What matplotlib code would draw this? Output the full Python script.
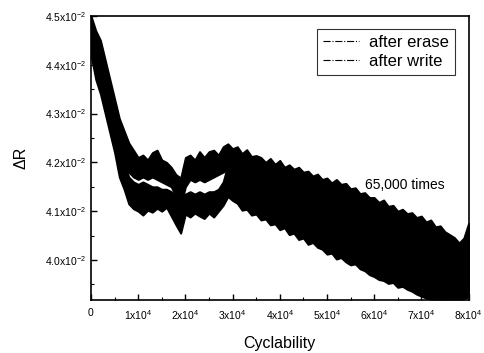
import numpy as np
import matplotlib
matplotlib.use("Agg")
import matplotlib.pyplot as plt
from matplotlib.ticker import MultipleLocator, FixedLocator, FixedFormatter

plt.rcParams['font.family'] = ['Liberation Sans', 'DejaVu Sans']
plt.rcParams['mathtext.fontset'] = 'custom'
plt.rcParams['mathtext.rm'] = 'Liberation Sans'
plt.rcParams['mathtext.it'] = 'Liberation Sans:italic'

#%% data (dR in units of 1e-2, cycles every 1000)
cycles = np.arange(0, 81000, 1000)

# band envelopes, after erase (upper band)
erase_top = [4.50, 4.47, 4.45, 4.41, 4.37, 4.33, 4.29, 4.265, 4.24, 4.225,
             4.21, 4.215, 4.205, 4.22, 4.225, 4.205, 4.20, 4.19, 4.175, 4.168,
             4.21, 4.215, 4.205, 4.222, 4.21, 4.222, 4.225, 4.215, 4.232, 4.238,
             4.228, 4.232, 4.218, 4.226, 4.212, 4.214, 4.21, 4.20, 4.208, 4.196,
             4.204, 4.19, 4.195, 4.186, 4.19, 4.18, 4.182, 4.172, 4.176, 4.165,
             4.168, 4.158, 4.165, 4.155, 4.157, 4.146, 4.148, 4.136, 4.138, 4.128,
             4.128, 4.118, 4.123, 4.11, 4.112, 4.10, 4.104, 4.095, 4.097, 4.087,
             4.09, 4.078, 4.082, 4.068, 4.07, 4.058, 4.052, 4.046, 4.035, 4.045,
             4.075]
erase_bot = [4.46, 4.42, 4.39, 4.35, 4.31, 4.27, 4.22, 4.19, 4.18, 4.17,
             4.165, 4.17, 4.165, 4.17, 4.165, 4.16, 4.155, 4.15, 4.13, 4.11,
             4.15, 4.165, 4.16, 4.165, 4.16, 4.165, 4.17, 4.175, 4.18, 4.185,
             4.17, 4.16, 4.155, 4.155, 4.145, 4.14, 4.14, 4.135, 4.13, 4.125,
             4.12, 4.12, 4.11, 4.11, 4.105, 4.10, 4.10, 4.095, 4.09, 4.085,
             4.08, 4.075, 4.075, 4.07, 4.07, 4.06, 4.06, 4.055, 4.045, 4.04,
             4.035, 4.03, 4.03, 4.025, 4.02, 4.015, 4.012, 4.01, 4.005, 4.00,
             3.995, 3.99, 3.99, 3.985, 3.98, 3.98, 3.975, 3.97, 3.97, 3.97,
             3.98]

# after write (lower band)
write_top = [4.47, 4.43, 4.40, 4.36, 4.32, 4.28, 4.24, 4.20, 4.17, 4.16,
             4.155, 4.16, 4.155, 4.15, 4.15, 4.145, 4.145, 4.14, 4.13, 4.12,
             4.135, 4.14, 4.135, 4.14, 4.135, 4.14, 4.14, 4.145, 4.16, 4.195,
             4.185, 4.18, 4.17, 4.17, 4.165, 4.16, 4.155, 4.15, 4.145, 4.14,
             4.14, 4.135, 4.13, 4.13, 4.12, 4.12, 4.115, 4.11, 4.11, 4.10,
             4.10, 4.095, 4.09, 4.09, 4.085, 4.08, 4.075, 4.07, 4.065, 4.06,
             4.055, 4.05, 4.045, 4.045, 4.04, 4.035, 4.03, 4.03, 4.025, 4.02,
             4.015, 4.01, 4.005, 4.00, 4.00, 3.995, 3.99, 3.99, 3.985, 3.99,
             4.00]
write_bot = [4.42, 4.37, 4.34, 4.30, 4.26, 4.22, 4.17, 4.145, 4.115, 4.105,
             4.10, 4.092, 4.102, 4.098, 4.106, 4.10, 4.108, 4.09, 4.072, 4.055,
             4.094, 4.088, 4.096, 4.09, 4.085, 4.096, 4.088, 4.10, 4.112, 4.13,
             4.122, 4.116, 4.102, 4.104, 4.092, 4.094, 4.082, 4.084, 4.072, 4.074,
             4.062, 4.066, 4.052, 4.055, 4.042, 4.045, 4.032, 4.036, 4.026, 4.022,
             4.012, 4.014, 4.002, 4.005, 3.996, 3.99, 3.992, 3.982, 3.978, 3.97,
             3.966, 3.96, 3.958, 3.952, 3.954, 3.944, 3.946, 3.94, 3.936, 3.93,
             3.926, 3.922, 3.92, 3.92, 3.92, 3.92, 3.92, 3.92, 3.92, 3.92,
             3.925]

y_ticks = [4.0, 4.1, 4.2, 4.3, 4.4, 4.5]
x_ticks = [0, 10000, 20000, 30000, 40000, 50000, 60000, 70000, 80000]
x_ticklabels = ['0'] + ['%dx10$^{4}$' % k for k in range(1, 9)]
y_ticklabels = ['%.1fx10$^{-2}$' % v for v in y_ticks]

#%% plot
fig = plt.figure(figsize=(4.84, 3.53), dpi=100)
ax = fig.add_axes([0.188, 0.150, 0.780, 0.805])

scale = 1e-2
ax.fill_between(cycles, np.array(erase_bot)*scale, np.array(erase_top)*scale,
                color='black', linewidth=1.4)
ax.fill_between(cycles, np.array(write_bot)*scale, np.array(write_top)*scale,
                color='black', linewidth=1.4)
ax.plot(cycles, (np.array(erase_top)+np.array(erase_bot))/2*scale, 'k-.',
        lw=0.8, label='after erase')
ax.plot(cycles, (np.array(write_top)+np.array(write_bot))/2*scale, 'k-.',
        lw=0.8, label='after write')

ax.set_xlim(0, 80000)
ax.set_ylim(3.918e-2, 4.5e-2)

ax.xaxis.set_major_locator(FixedLocator(x_ticks))
ax.xaxis.set_major_formatter(FixedFormatter(x_ticklabels))
ax.xaxis.set_minor_locator(MultipleLocator(5000))
ax.yaxis.set_major_locator(FixedLocator([v*scale for v in y_ticks]))
ax.yaxis.set_major_formatter(FixedFormatter(y_ticklabels))
ax.yaxis.set_minor_locator(MultipleLocator(0.05*scale))
ax.tick_params(which='both', direction='in', labelsize=7.5, top=False, right=False)
ax.tick_params(which='major', length=4, width=1)
ax.tick_params(which='minor', length=2.5, width=0.8)
ax.tick_params(axis='x', pad=6)
for sp in ax.spines.values():
    sp.set_linewidth(1.2)

ax.set_xlabel('Cyclability', fontsize=11.5, labelpad=10)
ax.set_ylabel('ΔR', fontsize=11.5, labelpad=12)

ax.text(66500, 4.153e-2, '65,000 times', fontsize=10, ha='center', va='center')

leg = ax.legend(loc='upper right', fontsize=12, frameon=True, fancybox=False,
                borderpad=0.35, labelspacing=0.25, handlelength=2.2,
                handletextpad=0.6, borderaxespad=0.8)
leg.get_frame().set_edgecolor('black')
leg.get_frame().set_linewidth(0.8)

fig.savefig('out.png', dpi=100)
